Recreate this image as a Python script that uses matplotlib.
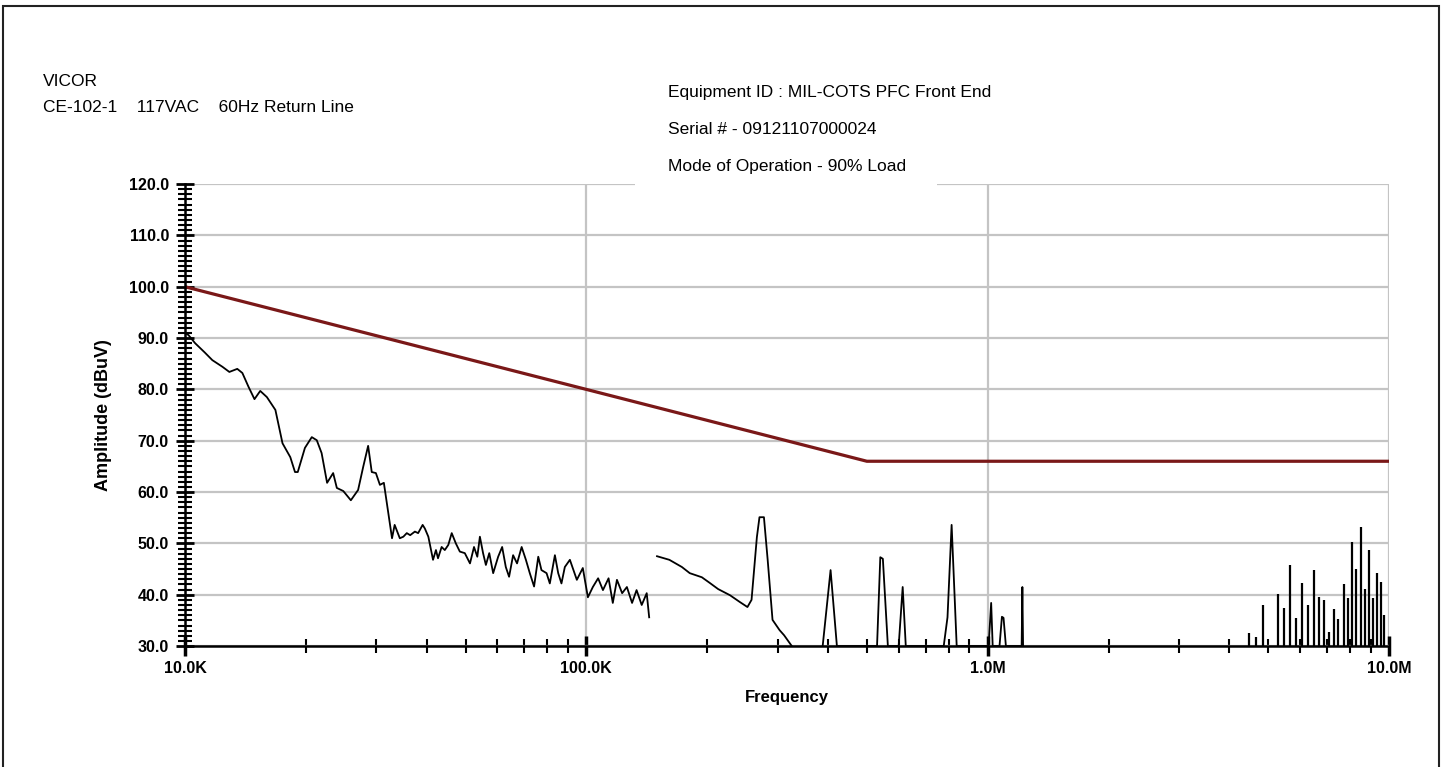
import matplotlib
matplotlib.use('Agg')
import matplotlib.pyplot as plt
from matplotlib.patches import Rectangle
from matplotlib.ticker import FixedLocator, NullFormatter
import numpy as np

plt.rcParams['font.family'] = ['Liberation Sans', 'DejaVu Sans']

# CE-102 limit (kHz, dBuV)
limit_khz = [10, 100, 500, 10000]
limit_db = [100, 80, 66, 66]

# broadband noise, 10k - 143k
noise_khz = [10.0, 10.2, 10.6, 11.2, 11.7, 12.4, 12.9, 13.5, 13.9, 14.4, 14.9, 15.4, 16.0, 16.8, 17.5,
             18.3, 18.8, 19.1, 19.9, 20.7, 21.3, 21.9, 22.6, 23.4, 23.9, 24.8, 25.9, 27.0, 27.8, 28.6,
             29.2, 29.9, 30.6, 31.3, 32.8, 33.3,
             34.3, 35.0, 35.7, 36.4, 37.4, 38.1, 39.1, 39.6, 40.4, 41.5, 42.2, 42.7, 43.6, 44.4, 45.3,
             46.2, 47.3, 48.4, 49.8, 51.3, 52.5, 53.5, 54.3, 55.3, 56.2, 57.3, 58.6, 60.3, 61.7, 63.0,
             64.2, 65.7, 67.2, 69.0, 70.7, 72.3, 74.1, 75.9, 77.3, 79.6, 81.1, 83.5, 85.1, 86.7,
             88.4, 91.0, 94.7, 98.0, 100.9, 103.8, 107.0, 110.0, 113.6, 116.4, 119.2, 122.8, 126.2,
             130.0, 133.4, 137.4, 141.4, 143.4]
noise_db = [91.0, 90.6, 89.0, 87.2, 85.7, 84.4, 83.4, 84.0, 83.2, 80.5, 78.1, 79.7, 78.5, 76.0, 69.5,
            66.8, 63.9, 63.9, 68.6, 70.7, 70.1, 67.6, 61.8, 63.7, 60.8, 60.2, 58.4, 60.4, 64.9, 69.0,
            63.9, 63.7, 61.4, 61.8, 51.0, 53.6,
            51.0, 51.3, 52.0, 51.6, 52.3, 52.0, 53.6, 52.9, 51.3, 46.8, 48.7, 47.1, 49.3, 48.7, 49.7,
            52.0, 50.0, 48.4, 48.1, 46.1, 49.3, 47.4, 51.3, 48.1, 45.8, 48.1, 44.2, 47.4, 49.3, 45.4,
            43.5, 47.7, 46.1, 49.3, 46.8, 44.2, 41.6, 47.4, 44.8, 44.2, 42.2, 47.7, 44.2, 42.2,
            45.4, 46.8, 42.9, 45.2, 39.5, 41.5, 43.2, 40.9, 43.2, 38.4, 42.9, 40.3, 41.5,
            38.4, 40.9, 38.0, 40.3, 35.6]

# second sweep segment, 150k - 325k
sweep_khz = [150, 161, 173, 181, 194, 203, 213, 228, 241, 252, 258, 266, 270, 277, 283, 291, 303, 311, 325]
sweep_db = [47.5, 46.8, 45.4, 44.2, 43.4, 42.3, 41.1, 39.9, 38.6, 37.6, 39.0, 51.2, 55.1, 55.1, 46.8,
            35.1, 33.1, 32.1, 30.0]

# narrow peaks 380k - 1.2M
peak_khz = [388, 406, 421, 530, 540, 548, 564, 600, 614, 625, 777, 794, 813, 837,
            1005, 1020, 1029, 1070, 1085, 1095, 1110, 1215, 1220, 1225]
peak_db = [30, 44.8, 30, 30, 47.3, 47.0, 30, 30, 41.5, 30, 30, 35.6, 53.6, 30,
           30, 38.4, 30, 30, 35.7, 35.5, 30, 30, 41.5, 30]

# HF spikes (MHz)
spike_mhz = [4.47, 4.67, 4.86, 5.28, 5.48, 5.67, 5.87, 6.08, 6.29, 6.50, 6.69, 6.90, 7.08,
             7.29, 7.48, 7.70, 7.89, 8.09, 8.28, 8.53, 8.69, 8.91, 9.12, 9.33, 9.53, 9.71]
spike_db = [32.5, 31.8, 38.0, 40.1, 37.5, 45.8, 35.4, 42.2, 38.0, 44.8, 39.5, 39.0, 32.8,
            37.2, 35.2, 42.1, 39.3, 50.3, 45.1, 53.2, 41.2, 48.7, 39.3, 44.2, 42.5, 36.0]

xtick_khz = [10, 100, 1000, 10000]
xtick_labels = ['10.0K', '100.0K', '1.0M', '10.0M']
ytick_vals = list(range(30, 121, 10))

fig = plt.figure(figsize=(14.45, 7.67), dpi=100)
ax = fig.add_axes([0.128, 0.1577, 0.8333, 0.6023])

ax.plot(limit_khz, limit_db, c='#7a1818', lw=2.3, zorder=4)
ax.plot(noise_khz, noise_db, c='k', lw=1.3, zorder=3)
ax.plot(sweep_khz, sweep_db, c='k', lw=1.3, zorder=3)
ax.plot(peak_khz, peak_db, c='k', lw=1.3, zorder=3)
ax.vlines(np.array(spike_mhz) * 1000, 30, spike_db, colors='k', lw=1.6, zorder=3)

ax.set_xscale('log')
ax.set_xlim(10, 10000)
ax.set_ylim(30, 120)
ax.set_xticks(xtick_khz, xtick_labels)
ax.xaxis.set_minor_locator(FixedLocator([m * d for d in [10, 100, 1000] for m in range(2, 10)]))
ax.xaxis.set_minor_formatter(NullFormatter())
ax.set_yticks(ytick_vals, ['%.1f' % v for v in ytick_vals])
ax.yaxis.set_minor_locator(FixedLocator(range(30, 121)))

ax.grid(True, which='major', color='#c4c4c4', lw=1.6)
ax.set_axisbelow(True)
for s in ['top', 'right']:
    ax.spines[s].set_visible(False)
for s in ['left', 'bottom']:
    ax.spines[s].set_linewidth(1.8)
    ax.spines[s].set_zorder(5)

ax.tick_params(axis='y', which='major', direction='inout', length=13, width=2, pad=5, labelsize=11.5)
ax.tick_params(axis='y', which='minor', direction='inout', length=9.5, width=1.5)
ax.tick_params(axis='x', which='major', direction='inout', length=14, width=2.5, pad=4, labelsize=11.5)
ax.tick_params(axis='x', which='minor', direction='inout', length=10, width=1.5)
for lab in ax.get_xticklabels() + ax.get_yticklabels():
    lab.set_fontweight('bold')

ax.set_xlabel('Frequency', fontsize=12, fontweight='bold', labelpad=10)
ax.set_ylabel('Amplitude (dBuV)', fontsize=13, fontweight='bold', labelpad=12)

# header texts
fig.text(43 / 1445, 1 - 81 / 767, 'VICOR', fontsize=12.5, va='center', ha='left')
fig.text(43 / 1445, 1 - 107 / 767, 'CE-102-1    117VAC    60Hz Return Line', fontsize=12.5, va='center', ha='left')
fig.patches.append(Rectangle((635 / 1445, 1 - 188 / 767), 302 / 1445, 130 / 767,
                             transform=fig.transFigure, facecolor='white', edgecolor='none', zorder=2))
fig.text(668 / 1445, 1 - 92 / 767, 'Equipment ID : MIL-COTS PFC Front End', fontsize=12.5, va='center', zorder=3)
fig.text(668 / 1445, 1 - 129 / 767, 'Serial # - 09121107000024', fontsize=12.5, va='center', zorder=3)
fig.text(668 / 1445, 1 - 166 / 767, 'Mode of Operation - 90% Load', fontsize=12.5, va='center', zorder=3)

# outer frame (bottom edge runs off the image)
fig.patches.append(Rectangle((3 / 1445, -0.02), 1436 / 1445, 1.02 - 6 / 767, transform=fig.transFigure,
                             facecolor='none', edgecolor='#222222', lw=1.5, zorder=3))

plt.savefig('out.png', dpi=100)
plt.close()
